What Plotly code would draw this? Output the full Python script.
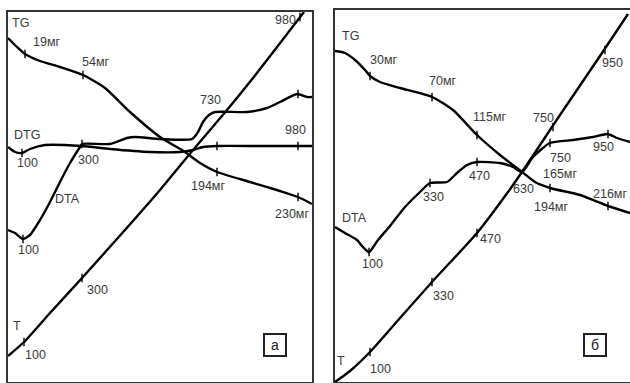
import plotly.graph_objects as go

# ---------------- Panel "а" (time units / signal units) ----------------
a_T_x = [0, 16, 42, 74, 152, 185, 219, 245, 296]
a_T_y = [26, 40, 69, 104, 192, 232, 272, 304, 370]

a_TG_x = [0, 8, 17, 32, 52, 75, 97, 122, 152, 177, 192, 209, 242, 272, 290, 304]
a_TG_y = [344, 336, 328, 321, 315, 307, 294, 270, 245, 230, 219, 210, 200, 191, 185, 178]

a_DTG_x = [0, 7, 14, 22, 37, 74, 102, 142, 172, 185, 195, 209, 252, 304]
a_DTG_y = [235, 230, 229, 233, 237, 236, 233, 230, 230, 232, 235, 236, 236, 236]

a_DTA_x = [0, 7, 15, 22, 32, 42, 52, 62, 72, 74, 102, 119, 127, 152, 184, 190, 195, 201, 207, 239, 259, 272, 289, 299, 304]
a_DTA_y = [152, 149, 143, 147, 162, 180, 200, 219, 235, 238, 238, 244, 245, 243, 243, 250, 260, 267, 270, 270, 274, 280, 288, 285, 285]

a_tick_x = [17, 75, 209, 290, 14, 209, 290, 15, 74, 290, 16, 74, 292]
a_tick_y = [328, 307, 210, 185, 229, 236, 236, 143, 238, 288, 40, 104, 365]

# ---------------- Panel "б" ----------------
b_T_x = [0, 15, 35, 65, 97, 142, 173, 187, 211, 225, 265, 293]
b_T_y = [0, 11, 30, 64, 100, 149, 190, 210, 246, 267, 326, 368]

b_TG_x = [0, 10, 20, 30, 35, 45, 65, 97, 118, 142, 165, 187, 200, 215, 245, 273, 295]
b_TG_y = [331, 329, 322, 312, 306, 300, 294, 285, 272, 247, 227, 210, 200, 194, 187, 176, 169]

b_DTA_x = [0, 10, 22, 27, 34, 43, 55, 70, 85, 95, 112, 122, 132, 142, 165, 178, 187, 198, 215, 238, 258, 273, 282, 295]
b_DTA_y = [155, 149, 142, 136, 130, 142, 156, 175, 190, 199, 200, 209, 217, 220, 219, 215, 210, 225, 239, 242, 245, 248, 244, 240]

b_tick_x = [35, 97, 142, 215, 273, 34, 95, 142, 215, 273, 35, 97, 142, 218, 270]
b_tick_y = [306, 285, 247, 194, 176, 130, 199, 220, 239, 248, 30, 100, 149, 255, 332]

# ---------------- Labels ----------------
a_labels = ["TG", "19мг", "54мг", "DTG", "100", "300", "730", "980", "980",
            "194мг", "230мг", "DTA", "100", "300", "T", "100"]
a_lab_x = [12, 38, 87, 19, 19, 80, 202, 277, 287, 200, 284, 59, 20, 89, 9, 27]
a_lab_y = [359, 340, 320, 247, 219, 222, 282, 362, 252, 196, 168, 183, 132, 92, 56, 27]

b_labels = ["TG", "30мг", "70мг", "115мг", "750", "950", "750", "950", "165мг",
            "630", "194мг", "DTA", "330", "470", "100", "470", "330", "100", "T"]
b_lab_x = [15, 48, 107, 155, 208, 277, 225, 268, 225, 188, 216, 19, 98, 144, 37, 155, 108, 45, 6]
b_lab_y = [346, 322, 301, 265, 264, 319, 224, 235, 208, 193, 175, 164, 185, 206, 118, 143, 86, 13, 21]

W, H = 630, 383
FONT = "Arial, Liberation Sans, sans-serif"
TXT = "#3a3a3a"
FS = 12.5
LW = 2.4

fig = go.Figure()

def curve(x, y, xa, ya):
    fig.add_trace(go.Scatter(x=x, y=y, mode="lines", xaxis=xa, yaxis=ya,
                             line=dict(color="black", width=LW, shape="spline", smoothing=0.6),
                             hoverinfo="skip", showlegend=False))

for xs, ys in [(a_T_x, a_T_y), (a_TG_x, a_TG_y), (a_DTG_x, a_DTG_y), (a_DTA_x, a_DTA_y)]:
    curve(xs, ys, "x", "y")
for xs, ys in [(b_T_x, b_T_y), (b_TG_x, b_TG_y), (b_DTA_x, b_DTA_y)]:
    curve(xs, ys, "x2", "y2")

for tx, ty, xa, ya in [(a_tick_x, a_tick_y, "x", "y"), (b_tick_x, b_tick_y, "x2", "y2")]:
    fig.add_trace(go.Scatter(x=tx, y=ty, mode="markers", xaxis=xa, yaxis=ya,
                             marker=dict(symbol="line-ns", size=6,
                                         line=dict(color="black", width=1.4)),
                             hoverinfo="skip", showlegend=False))

ann = []
for t, x, y in zip(a_labels, a_lab_x, a_lab_y):
    ann.append(dict(text=t, x=x, y=y, xref="x", yref="y", showarrow=False,
                    font=dict(family=FONT, size=FS, color=TXT)))
for t, x, y in zip(b_labels, b_lab_x, b_lab_y):
    ann.append(dict(text=t, x=x, y=y, xref="x2", yref="y2", showarrow=False,
                    font=dict(family=FONT, size=FS, color=TXT)))
ann.append(dict(text="216мг", x=294, y=188, xref="x2", yref="y2", showarrow=False,
                xanchor="right", font=dict(family=FONT, size=FS, color=TXT)))
ann.append(dict(text="а", x=267, y=37, xref="x", yref="y", showarrow=False,
                width=18, height=18, bordercolor="#222", borderwidth=2, borderpad=1,
                font=dict(family=FONT, size=14, color="#222")))
ann.append(dict(text="б", x=260, y=37, xref="x2", yref="y2", showarrow=False,
                width=18, height=18, bordercolor="#222", borderwidth=2, borderpad=1,
                font=dict(family=FONT, size=14, color="#222")))

ax = dict(showgrid=False, zeroline=False, showticklabels=False, ticks="",
          showline=True, linecolor="#333", linewidth=1.6)

fig.update_layout(
    width=W, height=H, autosize=False,
    margin=dict(l=0, r=0, t=0, b=0),
    paper_bgcolor="white", plot_bgcolor="white",
    hovermode=False,
    xaxis=dict(ax, domain=[8 / W, 312 / W], range=[0, 304], mirror=True, anchor="y", fixedrange=True),
    yaxis=dict(ax, domain=[1 / H, 371 / H], range=[0, 370], mirror=True, anchor="x", fixedrange=True),
    xaxis2=dict(ax, domain=[335 / W, 1], range=[0, 295], mirror=True, anchor="y2", fixedrange=True),
    yaxis2=dict(ax, domain=[1 / H, 373 / H], range=[0, 372], mirror=False, anchor="x2", fixedrange=True),
    annotations=ann,
)

fig.write_html("out.html", config={"displayModeBar": False},
               post_script="document.body.style.margin='0';document.body.style.overflow='hidden';")
